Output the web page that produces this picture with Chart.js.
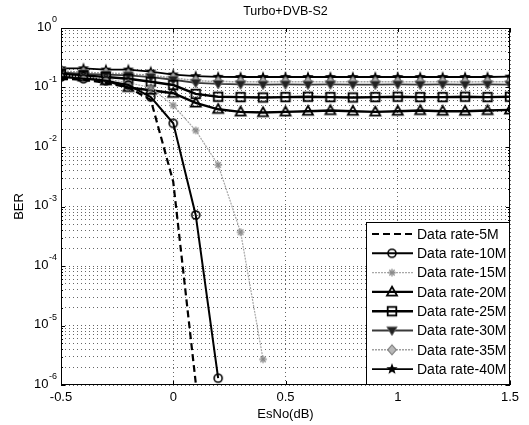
<!DOCTYPE html>
<html>
<head>
<meta charset="utf-8">
<title>Turbo+DVB-S2</title>
<script src="https://cdn.jsdelivr.net/npm/chart.js@4.4.1/dist/chart.umd.min.js"></script>
<style>
  html, body { margin: 0; padding: 0; background: #fff; }
  #wrap { width: 529px; height: 425px; }
</style>
</head>
<body>
<div id="wrap"><canvas id="berChart" width="529" height="425"></canvas></div>
<script>
// EsNo sweep in dB
const esno = [-0.5, -0.4, -0.3, -0.2, -0.1, 0, 0.1, 0.2, 0.3, 0.4, 0.5,
              0.6, 0.7, 0.8, 0.9, 1.0, 1.1, 1.2, 1.3, 1.4, 1.5];

// BER per data rate (waterfall curves stop once they hit the 1e-6 floor)
const ber5M  = [0.14, 0.135, 0.12, 0.1, 0.062, 2.6e-3, 1.1e-6];
const ber10M = [0.15, 0.14, 0.13, 0.11, 0.069, 0.025, 7.2e-4, 1.3e-6];
const ber15M = [0.16, 0.15, 0.14, 0.12, 0.1, 0.05, 0.019, 5.0e-3, 3.7e-4, 2.7e-6];
const ber20M = [0.16, 0.15, 0.13, 0.1, 0.09, 0.08, 0.055, 0.043, 0.039, 0.038, 0.039,
                0.04, 0.041, 0.04, 0.039, 0.04, 0.041, 0.04, 0.04, 0.041, 0.042];
const ber25M = [0.17, 0.16, 0.15, 0.14, 0.125, 0.11, 0.078, 0.07, 0.069, 0.068, 0.069,
                0.07, 0.069, 0.068, 0.069, 0.07, 0.069, 0.069, 0.07, 0.069, 0.07];
const ber30M = [0.18, 0.17, 0.165, 0.16, 0.15, 0.135, 0.12, 0.115, 0.113, 0.112, 0.113,
                0.112, 0.113, 0.112, 0.112, 0.113, 0.112, 0.113, 0.112, 0.113, 0.112];
const ber35M = [0.19, 0.18, 0.175, 0.17, 0.16, 0.145, 0.13, 0.126, 0.125, 0.124, 0.125,
                0.125, 0.124, 0.125, 0.125, 0.124, 0.125, 0.125, 0.124, 0.125, 0.125];
const ber40M = [0.21, 0.21, 0.2, 0.2, 0.185, 0.165, 0.155, 0.151, 0.15, 0.15, 0.15,
                0.15, 0.15, 0.15, 0.15, 0.15, 0.15, 0.15, 0.15, 0.15, 0.152];

const rateLabels = ['Data rate-5M', 'Data rate-10M', 'Data rate-15M', 'Data rate-20M',
                    'Data rate-25M', 'Data rate-30M', 'Data rate-35M', 'Data rate-40M'];
const rateSeries = [ber5M, ber10M, ber15M, ber20M, ber25M, ber30M, ber35M, ber40M];

const xTickValues = [-0.5, 0, 0.5, 1, 1.5];
const yDecades = [0, -1, -2, -3, -4, -5, -6];

const FONT = '"Liberation Sans", Arial, Helvetica, sans-serif';

// small offscreen canvases used as point markers (and in the legend)
function markerCanvas(draw) {
  const c = document.createElement('canvas');
  c.width = 16; c.height = 16;
  const g = c.getContext('2d');
  g.translate(8, 8);
  draw(g);
  return c;
}

const markers = {
  circle: markerCanvas(g => {
    g.beginPath(); g.arc(0, 0, 4, 0, Math.PI * 2);
    g.lineWidth = 1.6; g.strokeStyle = '#000'; g.stroke();
  }),
  asterisk: markerCanvas(g => {
    g.strokeStyle = '#888'; g.lineWidth = 1.3;
    for (let k = 0; k < 4; k++) {
      const t = k * Math.PI / 4;
      g.beginPath();
      g.moveTo(-3.8 * Math.cos(t), -3.8 * Math.sin(t));
      g.lineTo(3.8 * Math.cos(t), 3.8 * Math.sin(t));
      g.stroke();
    }
  }),
  triUp: markerCanvas(g => {
    g.beginPath(); g.moveTo(0, -5.2); g.lineTo(5, 3.6); g.lineTo(-5, 3.6); g.closePath();
    g.lineWidth = 1.8; g.strokeStyle = '#000'; g.stroke();
  }),
  square: markerCanvas(g => {
    g.lineWidth = 1.8; g.strokeStyle = '#000'; g.strokeRect(-4.3, -4.3, 8.6, 8.6);
  }),
  triDown: markerCanvas(g => {
    g.beginPath(); g.moveTo(0, 5); g.lineTo(5.2, -3.6); g.lineTo(-5.2, -3.6); g.closePath();
    g.fillStyle = '#222'; g.fill();
    g.lineWidth = 1; g.strokeStyle = '#666'; g.stroke();
  }),
  diamond: markerCanvas(g => {
    g.beginPath(); g.moveTo(0, -5); g.lineTo(4.3, 0); g.lineTo(0, 5); g.lineTo(-4.3, 0); g.closePath();
    g.fillStyle = '#b8b8b8'; g.fill();
    g.lineWidth = 1.1; g.strokeStyle = '#777'; g.stroke();
  }),
  pentagram: markerCanvas(g => {
    g.beginPath();
    for (let k = 0; k < 10; k++) {
      const r = k % 2 ? 2.5 : 6;
      const t = -Math.PI / 2 + k * Math.PI / 5;
      g.lineTo(r * Math.cos(t), r * Math.sin(t));
    }
    g.closePath(); g.fillStyle = '#000'; g.fill();
  })
};

const lineStyles = [
  { color: '#000', width: 2.2, dash: [7, 4], marker: null },
  { color: '#000', width: 2, dash: [], marker: markers.circle },
  { color: '#a8a8a8', width: 1.2, dash: [2, 1], marker: markers.asterisk },
  { color: '#000', width: 2.4, dash: [], marker: markers.triUp },
  { color: '#000', width: 2.4, dash: [], marker: markers.square },
  { color: '#3a3a3a', width: 1.8, dash: [], marker: markers.triDown },
  { color: '#a0a0a0', width: 1.5, dash: [2, 1], marker: markers.diamond },
  { color: '#000', width: 1.8, dash: [], marker: markers.pentagram }
];

const datasets = rateSeries.map((vals, i) => ({
  label: rateLabels[i],
  data: vals.map((v, j) => ({ x: esno[j], y: v })),
  borderColor: lineStyles[i].color,
  borderWidth: lineStyles[i].width,
  borderDash: lineStyles[i].dash,
  pointStyle: lineStyles[i].marker || 'circle',
  pointRadius: lineStyles[i].marker ? 4 : 0,
  fill: false,
  tension: 0
}));

// axis box, inward ticks, tick labels, titles and the legend
const matlabAxes = {
  id: 'matlabAxes',
  beforeDraw(chart) {
    const ctx = chart.ctx;
    ctx.save();
    ctx.fillStyle = '#fff';
    ctx.fillRect(0, 0, chart.width, chart.height);
    ctx.restore();
  },
  afterDraw(chart) {
    const { ctx, chartArea: a, scales: { x, y } } = chart;
    ctx.save();
    ctx.strokeStyle = '#000';
    ctx.lineWidth = 1;
    ctx.strokeRect(a.left + 0.5, a.top + 0.5, a.right - a.left - 1, a.bottom - a.top - 1);

    // x ticks
    ctx.beginPath();
    xTickValues.forEach(v => {
      const px = Math.round(x.getPixelForValue(v)) + 0.5;
      ctx.moveTo(px, a.bottom); ctx.lineTo(px, a.bottom - 4);
      ctx.moveTo(px, a.top); ctx.lineTo(px, a.top + 4);
    });
    // y ticks, majors and minors
    yDecades.forEach(e => {
      for (let m = 1; m <= 9; m++) {
        const v = m * Math.pow(10, e);
        if (v > 1) break;
        const py = Math.round(y.getPixelForValue(v)) + 0.5;
        const len = m === 1 ? 4 : 2;
        ctx.moveTo(a.left, py); ctx.lineTo(a.left + len, py);
        ctx.moveTo(a.right, py); ctx.lineTo(a.right - len, py);
      }
    });
    ctx.stroke();

    ctx.fillStyle = '#000';
    // x tick labels
    ctx.font = '13px ' + FONT;
    ctx.textAlign = 'center';
    ctx.textBaseline = 'middle';
    xTickValues.forEach(v => {
      ctx.fillText(String(v), x.getPixelForValue(v), a.bottom + 12);
    });
    // y tick labels: 10 with raised exponent
    yDecades.forEach(e => {
      const py = y.getPixelForValue(Math.pow(10, e));
      const exp = String(e);
      ctx.font = '9px ' + FONT;
      const ew = ctx.measureText(exp).width;
      ctx.textAlign = 'left';
      ctx.textBaseline = 'middle';
      const expX = a.left - 4 - ew;
      ctx.fillText(exp, expX, py - 8);
      ctx.font = '13px ' + FONT;
      ctx.textAlign = 'right';
      ctx.fillText('10', expX - 0.5, py - 1);
    });

    // titles
    const cx = (a.left + a.right) / 2;
    ctx.textAlign = 'center';
    ctx.font = '12.5px ' + FONT;
    ctx.fillText('Turbo+DVB-S2', cx, a.top - 16);
    ctx.font = '13px ' + FONT;
    ctx.fillText('EsNo(dB)', cx, a.bottom + 29);
    ctx.save();
    ctx.translate(19, (a.top + a.bottom) / 2);
    ctx.rotate(-Math.PI / 2);
    ctx.fillText('BER', 0, 0);
    ctx.restore();

    // legend
    const lx = a.right - 144, ly = a.bottom - 163;
    ctx.fillStyle = '#fff';
    ctx.fillRect(lx, ly, 143, 162);
    ctx.strokeStyle = '#000';
    ctx.lineWidth = 1;
    ctx.strokeRect(lx + 0.5, ly + 0.5, 143, 162);
    rateLabels.forEach((name, i) => {
      const ry = ly + 12 + i * 19.3;
      const st = lineStyles[i];
      ctx.save();
      ctx.strokeStyle = st.color;
      ctx.lineWidth = st.width;
      ctx.setLineDash(st.dash);
      ctx.beginPath();
      ctx.moveTo(lx + 6, ry); ctx.lineTo(lx + 47, ry);
      ctx.stroke();
      ctx.restore();
      if (st.marker) ctx.drawImage(st.marker, lx + 26 - 8, ry - 8);
      ctx.fillStyle = '#000';
      ctx.font = '14px ' + FONT;
      ctx.textAlign = 'left';
      ctx.textBaseline = 'middle';
      ctx.fillText(name, lx + 51, ry + 1);
    });
    ctx.restore();
  }
};

const gridDash = [1, 3];

new Chart(document.getElementById('berChart'), {
  type: 'line',
  data: { datasets: datasets },
  options: {
    responsive: false,
    animation: false,
    events: [],
    layout: { padding: { left: 0, top: 28, right: 19, bottom: 0 } },
    plugins: {
      legend: { display: false },
      title: { display: false },
      tooltip: { enabled: false }
    },
    scales: {
      x: {
        type: 'linear',
        min: -0.5,
        max: 1.5,
        afterBuildTicks: s => { s.ticks = xTickValues.map(v => ({ value: v })); },
        afterFit: s => { s.height = 40; },
        ticks: { display: false },
        grid: { color: 'rgba(0,0,0,0.6)', lineWidth: 1, drawTicks: false },
        border: { display: false, dash: gridDash }
      },
      y: {
        type: 'logarithmic',
        min: 1e-6,
        max: 1,
        afterBuildTicks: s => {
          const t = [];
          yDecades.forEach(e => {
            for (let m = 1; m <= 9; m++) {
              const v = m * Math.pow(10, e);
              if (v <= 1) t.push({ value: v });
            }
          });
          s.ticks = t;
        },
        afterFit: s => { s.width = 61; },
        ticks: { display: false },
        grid: { color: 'rgba(0,0,0,0.6)', lineWidth: 1, drawTicks: false },
        border: { display: false, dash: gridDash }
      }
    }
  },
  plugins: [matlabAxes]
});
</script>
</body>
</html>
